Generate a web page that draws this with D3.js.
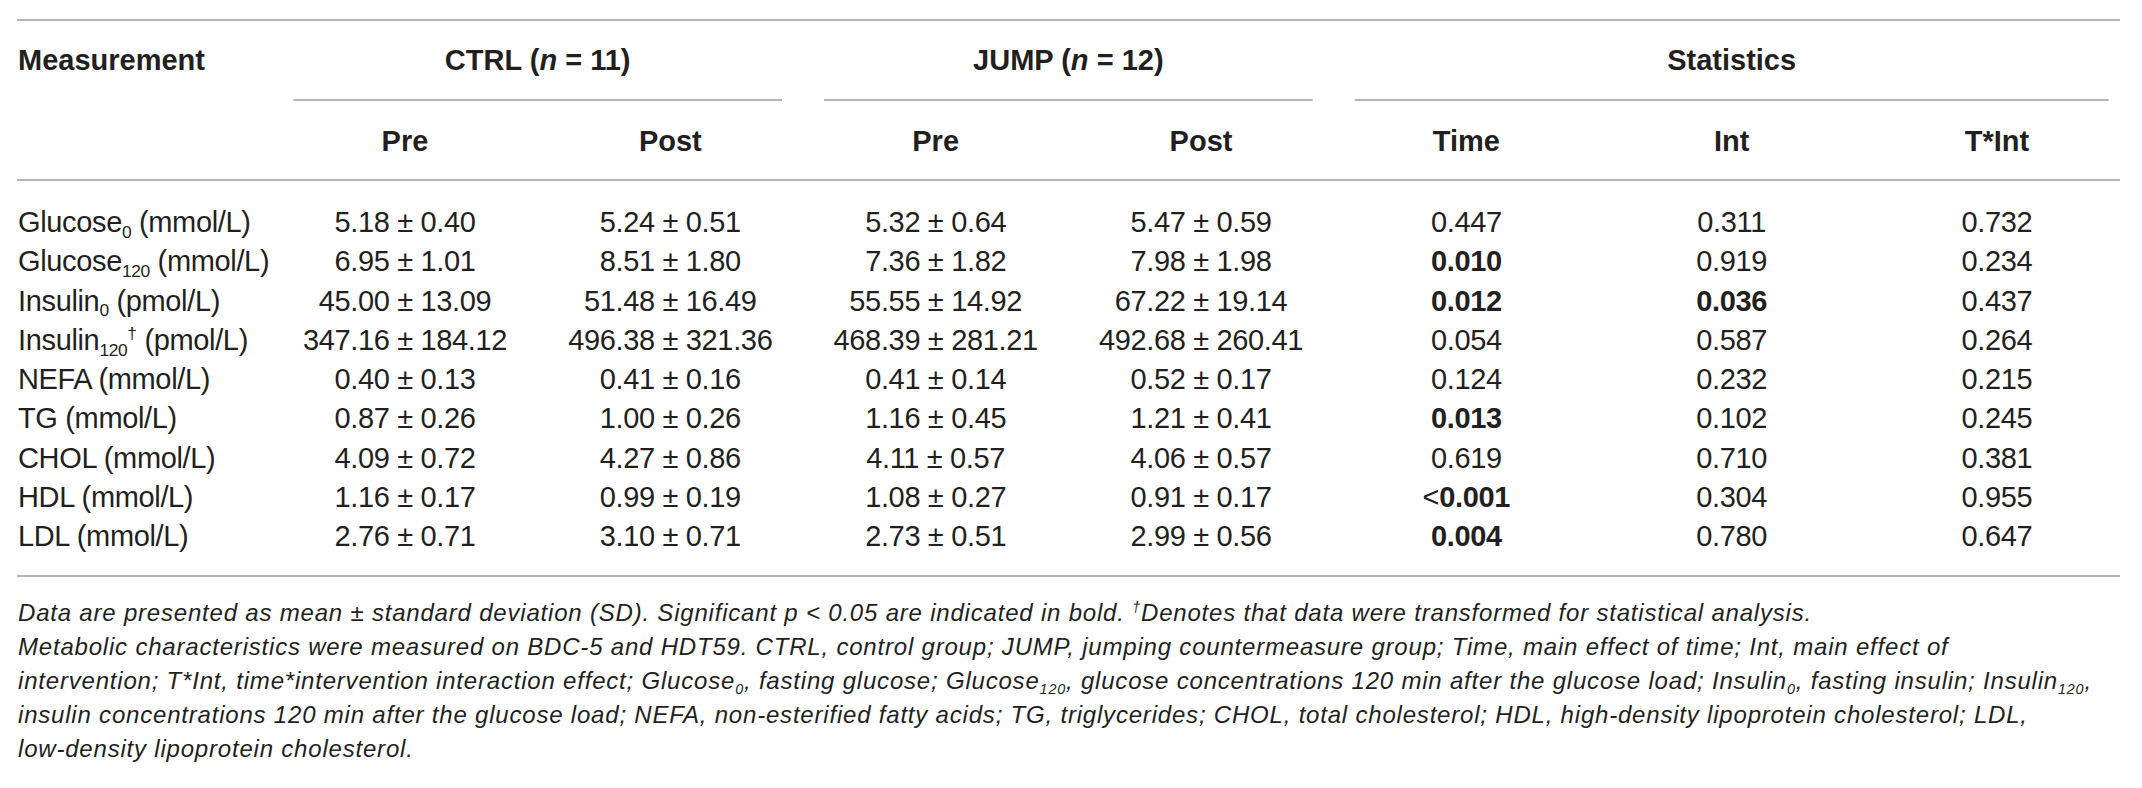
<!DOCTYPE html>
<html>
<head>
<meta charset="utf-8">
<script src="https://cdn.jsdelivr.net/npm/d3@7/dist/d3.min.js"></script>
<style>
  html, body { margin: 0; padding: 0; background: #ffffff; }
  svg { display: block; }
</style>
</head>
<body>
<svg id="chart" width="2142" height="788"></svg>
<script>
// ---------------- DATA ----------------
// markup: _{x} subscript, ^{x} superscript, ~{x} italic
const measurementLabels = [
  "Glucose_{0} (mmol/L)",
  "Glucose_{120} (mmol/L)",
  "Insulin_{0} (pmol/L)",
  "Insulin_{120}^{†} (pmol/L)",
  "NEFA (mmol/L)",
  "TG (mmol/L)",
  "CHOL (mmol/L)",
  "HDL (mmol/L)",
  "LDL (mmol/L)"
];
const ctrlPreMean  = [5.18, 6.95, 45.00, 347.16, 0.40, 0.87, 4.09, 1.16, 2.76];
const ctrlPreSD    = [0.40, 1.01, 13.09, 184.12, 0.13, 0.26, 0.72, 0.17, 0.71];
const ctrlPostMean = [5.24, 8.51, 51.48, 496.38, 0.41, 1.00, 4.27, 0.99, 3.10];
const ctrlPostSD   = [0.51, 1.80, 16.49, 321.36, 0.16, 0.26, 0.86, 0.19, 0.71];
const jumpPreMean  = [5.32, 7.36, 55.55, 468.39, 0.41, 1.16, 4.11, 1.08, 2.73];
const jumpPreSD    = [0.64, 1.82, 14.92, 281.21, 0.14, 0.45, 0.57, 0.27, 0.51];
const jumpPostMean = [5.47, 7.98, 67.22, 492.68, 0.52, 1.21, 4.06, 0.91, 2.99];
const jumpPostSD   = [0.59, 1.98, 19.14, 260.41, 0.17, 0.41, 0.57, 0.17, 0.56];
const pTime = ["0.447", "0.010", "0.012", "0.054", "0.124", "0.013", "0.619", "<0.001", "0.004"];
const pInt  = ["0.311", "0.919", "0.036", "0.587", "0.232", "0.102", "0.710", "0.304", "0.780"];
const pTInt = ["0.732", "0.234", "0.437", "0.264", "0.215", "0.245", "0.381", "0.955", "0.647"];

const firstHeader = "Measurement";
const groupHeaders = [
  { label: "CTRL (~{n} = 11)", cols: ["ctrlPre", "ctrlPost"] },
  { label: "JUMP (~{n} = 12)", cols: ["jumpPre", "jumpPost"] },
  { label: "Statistics", cols: ["time", "int", "tint"] }
];
const columnKeys   = ["ctrlPre", "ctrlPost", "jumpPre", "jumpPost", "time", "int", "tint"];
const columnLabels = ["Pre", "Post", "Pre", "Post", "Time", "Int", "T*Int"];
const significance = 0.05;

const footnotes = [
  "Data are presented as mean ± standard deviation (SD). Significant p < 0.05 are indicated in bold. ^{†}Denotes that data were transformed for statistical analysis.",
  "Metabolic characteristics were measured on BDC-5 and HDT59. CTRL, control group; JUMP, jumping countermeasure group; Time, main effect of time; Int, main effect of",
  "intervention; T*Int, time*intervention interaction effect; Glucose_{0}, fasting glucose; Glucose_{120}, glucose concentrations 120 min after the glucose load; Insulin_{0}, fasting insulin; Insulin_{120},",
  "insulin concentrations 120 min after the glucose load; NEFA, non-esterified fatty acids; TG, triglycerides; CHOL, total cholesterol; HDL, high-density lipoprotein cholesterol; LDL,",
  "low-density lipoprotein cholesterol."
];

// ---------------- STYLE / LAYOUT ----------------
const FONT = "'Liberation Sans', Arial, Helvetica, sans-serif";
const TEXT_COLOR = "#231f20";
const RULE_COLOR = "#9d9d9d";
const bodySize = 29, headSize = 29, noteSize = 24;

const svg = d3.select("#chart");
const fmt = d3.format(".2f");

const tableLeft = 18, tableRight = 2120;
const x = d3.scalePoint().domain(columnKeys).range([405, 1997]);
const step = x.step();
const y = d3.scalePoint().domain(d3.range(measurementLabels.length)).range([232, 546]);
const headY = d3.scalePoint().domain(["group", "col"]).range([70, 151]);
const ruleY = { top: 20, group: 100, head: 180, bottom: 576 };
const noteY = d3.scalePoint().domain(d3.range(footnotes.length)).range([621, 757]);

// rich text helper
function rich(sel, str, size) {
  const parts = str.split(/(_\{[^}]*\}|\^\{[^}]*\}|~\{[^}]*\})/).filter(s => s.length);
  let shift = 0;
  parts.forEach(p => {
    let t = p, dy = 0, fs = null, italic = false;
    if (p.startsWith("_{")) { t = p.slice(2, -1); dy = 0.2 * size; fs = 0.6 * size; }
    else if (p.startsWith("^{")) { t = p.slice(2, -1); dy = -0.38 * size; fs = 0.6 * size; }
    else if (p.startsWith("~{")) { t = p.slice(2, -1); italic = true; }
    const ts = sel.append("tspan").text(t).attr("dy", (dy - shift));
    shift = dy;
    if (fs) ts.attr("font-size", fs);
    if (italic) ts.attr("font-style", "italic");
  });
}

// rules
const rules = [
  [tableLeft - 1, tableRight, ruleY.top],
  [tableLeft - 1, tableRight, ruleY.head],
  [tableLeft - 1, tableRight, ruleY.bottom]
];
groupHeaders.forEach(g => {
  const a = x(g.cols[0]) - step / 2 + 21;
  const b = x(g.cols[g.cols.length - 1]) + step / 2 - 21;
  rules.push([a, b, ruleY.group]);
});
svg.append("g").selectAll("line").data(rules).join("line")
  .attr("x1", d => d[0]).attr("x2", d => d[1])
  .attr("y1", d => d[2]).attr("y2", d => d[2])
  .attr("stroke", RULE_COLOR).attr("stroke-width", 1.6);

// headers
const head = svg.append("g").attr("font-family", FONT).attr("font-weight", "bold")
  .attr("font-size", headSize).attr("fill", TEXT_COLOR);
head.append("text").attr("x", tableLeft).attr("y", headY("group")).text(firstHeader);
groupHeaders.forEach(g => {
  const cx = g.cols.length === 3 ? x(g.cols[1]) : d3.mean(g.cols.map(c => x(c)));
  const t = head.append("text").attr("x", cx).attr("y", headY("group")).attr("text-anchor", "middle");
  rich(t, g.label, headSize);
});
head.selectAll("text.col").data(columnKeys).join("text").attr("class", "col")
  .attr("x", d => x(d)).attr("y", headY("col")).attr("text-anchor", "middle")
  .text((d, i) => columnLabels[i]);

// body
const body = svg.append("g").attr("font-family", FONT).attr("font-size", bodySize)
  .attr("letter-spacing", -0.35).attr("fill", TEXT_COLOR);
measurementLabels.forEach((lab, i) => {
  const t = body.append("text").attr("x", tableLeft).attr("y", y(i));
  rich(t, lab, bodySize);
});
const meanSD = {
  ctrlPre: [ctrlPreMean, ctrlPreSD], ctrlPost: [ctrlPostMean, ctrlPostSD],
  jumpPre: [jumpPreMean, jumpPreSD], jumpPost: [jumpPostMean, jumpPostSD]
};
Object.keys(meanSD).forEach(k => {
  const [m, s] = meanSD[k];
  body.append("g").selectAll("text").data(m).join("text")
    .attr("x", x(k)).attr("y", (d, i) => y(i)).attr("text-anchor", "middle")
    .text((d, i) => fmt(d) + " ± " + fmt(s[i]));
});
const pCols = { time: pTime, int: pInt, tint: pTInt };
Object.keys(pCols).forEach(k => {
  const g = body.append("g");
  pCols[k].forEach((v, i) => {
    const lt = v.startsWith("<");
    const num = lt ? v.slice(1) : v;
    const sig = lt || (+num < significance);
    const t = g.append("text").attr("x", x(k)).attr("y", y(i)).attr("text-anchor", "middle");
    if (lt) t.append("tspan").text("<");
    t.append("tspan").text(num).attr("font-weight", sig ? "bold" : null);
  });
});

// footnotes
const notes = svg.append("g").attr("font-family", FONT).attr("font-style", "italic")
  .attr("font-size", noteSize).attr("letter-spacing", 0.8).attr("fill", TEXT_COLOR);
footnotes.forEach((f, i) => {
  const t = notes.append("text").attr("x", tableLeft).attr("y", noteY(i));
  rich(t, f, noteSize);
});
</script>
</body>
</html>
